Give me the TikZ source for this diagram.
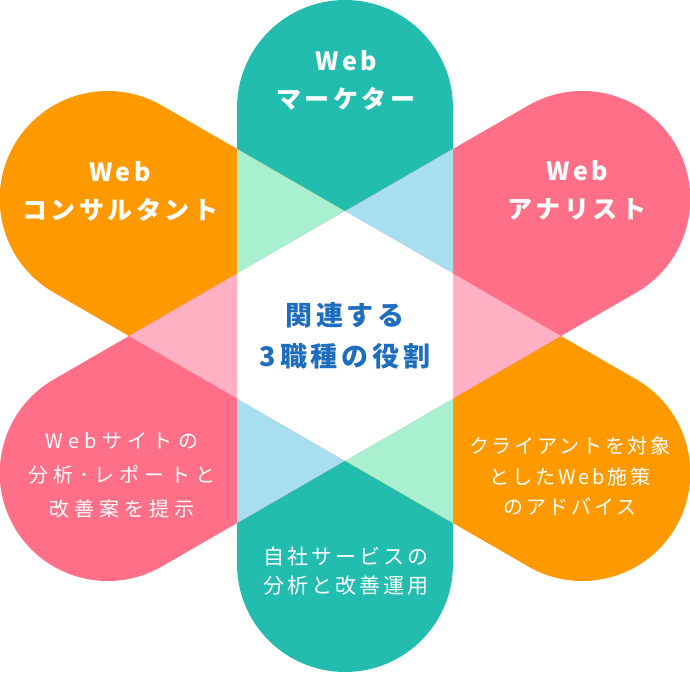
\documentclass[tikz,border=0pt]{standalone}
\usepackage{fontspec}
\setmainfont{Noto Sans CJK JP}
\newfontfamily\kopffont[LetterSpace=14]{Noto Sans CJK JP}
\newfontfamily\fliessfont[LetterSpace=14]{Noto Sans CJK JP}
\newfontfamily\weitfont[LetterSpace=26]{Noto Sans CJK JP}
\definecolor{tuerkis}{HTML}{22BDAE}
\definecolor{kapselorange}{HTML}{FF9900}
\definecolor{kapselrosa}{HTML}{FF7088}
\definecolor{hellgruen}{HTML}{A8F0D0}
\definecolor{hellblau}{HTML}{A8DFF0}
\definecolor{hellrosa}{HTML}{FFB0C3}
\definecolor{textblau}{HTML}{1E6EC0}
% Kapsel um den Ursprung, #1 = halbe Laenge bis Kreismitte
\newcommand{\kapsel}[1]{(-108,-#1) -- (-108,#1) arc[start angle=180,end angle=0,radius=108] -- (108,-#1) arc[start angle=0,end angle=-180,radius=108] -- cycle}
\tikzset{
	senkrecht/.style={shift={(345,336)}},
	schraeglinks/.style={shift={(345,336)},rotate=60},
	schraegrechts/.style={shift={(345,336)},rotate=-60},
	titel/.style={text=white, align=center, font=\kopffont\bfseries\fontsize{25}{38}\selectfont},
	beschreibung/.style={text=white, align=center, font=\fliessfont\fontsize{20}{30.5}\selectfont},
}
\begin{document}
\begin{tikzpicture}[x=1pt,y=1pt]
	\useasboundingbox (0,0) rectangle (690,672);
	% Kapseln
	\fill [tuerkis,senkrecht] \kapsel{228};
	\fill [kapselorange,schraeglinks] \kapsel{274};
	\fill [kapselrosa,schraegrechts] \kapsel{274};
	%Ueberschneidungen mit der senkrechten Kapsel
	\begin{scope}
		\clip [senkrecht] \kapsel{228};
		\fill [hellgruen,schraeglinks] \kapsel{274};
		\fill [hellblau,schraegrechts] \kapsel{274};
	\end{scope}
	%Ueberschneidung der schraegen Kapseln
	\begin{scope}
		\clip [schraeglinks] \kapsel{274};
		\fill [hellrosa,schraegrechts] \kapsel{274};
	\end{scope}
	% Sechseck in der Mitte
	\begin{scope}
		\clip [senkrecht] \kapsel{228};
		\clip [schraeglinks] \kapsel{274};
		\fill [white,schraegrechts] \kapsel{274};
	\end{scope}
	% Beschriftungen
	\node [titel] (marketer) at (346,592) {Web\\マーケター};
	\node [titel] (consultant) at (120,481) {Web\\コンサルタント};
	\node [titel] (analyst) at (577,482) {Web\\アナリスト};
	\node [beschreibung, font=\weitfont\fontsize{20}{34}\selectfont] (analyse) at (122,197) {Webサイトの\\分析･レポートと\\改善案を提示};
	\node [beschreibung] (beratung) at (570,196) {クライアントを対象\\としたWeb施策\\のアドバイス};
	\node [beschreibung, font=\kopffont\fontsize{21}{29}\selectfont] (betrieb) at (346,101) {自社サービスの\\分析と改善運用};
	\node [titel, text=textblau, font=\kopffont\bfseries\fontsize{27}{41}\selectfont] (mitte) at (345,336) {関連する\\3職種の役割};
\end{tikzpicture}
\end{document}
